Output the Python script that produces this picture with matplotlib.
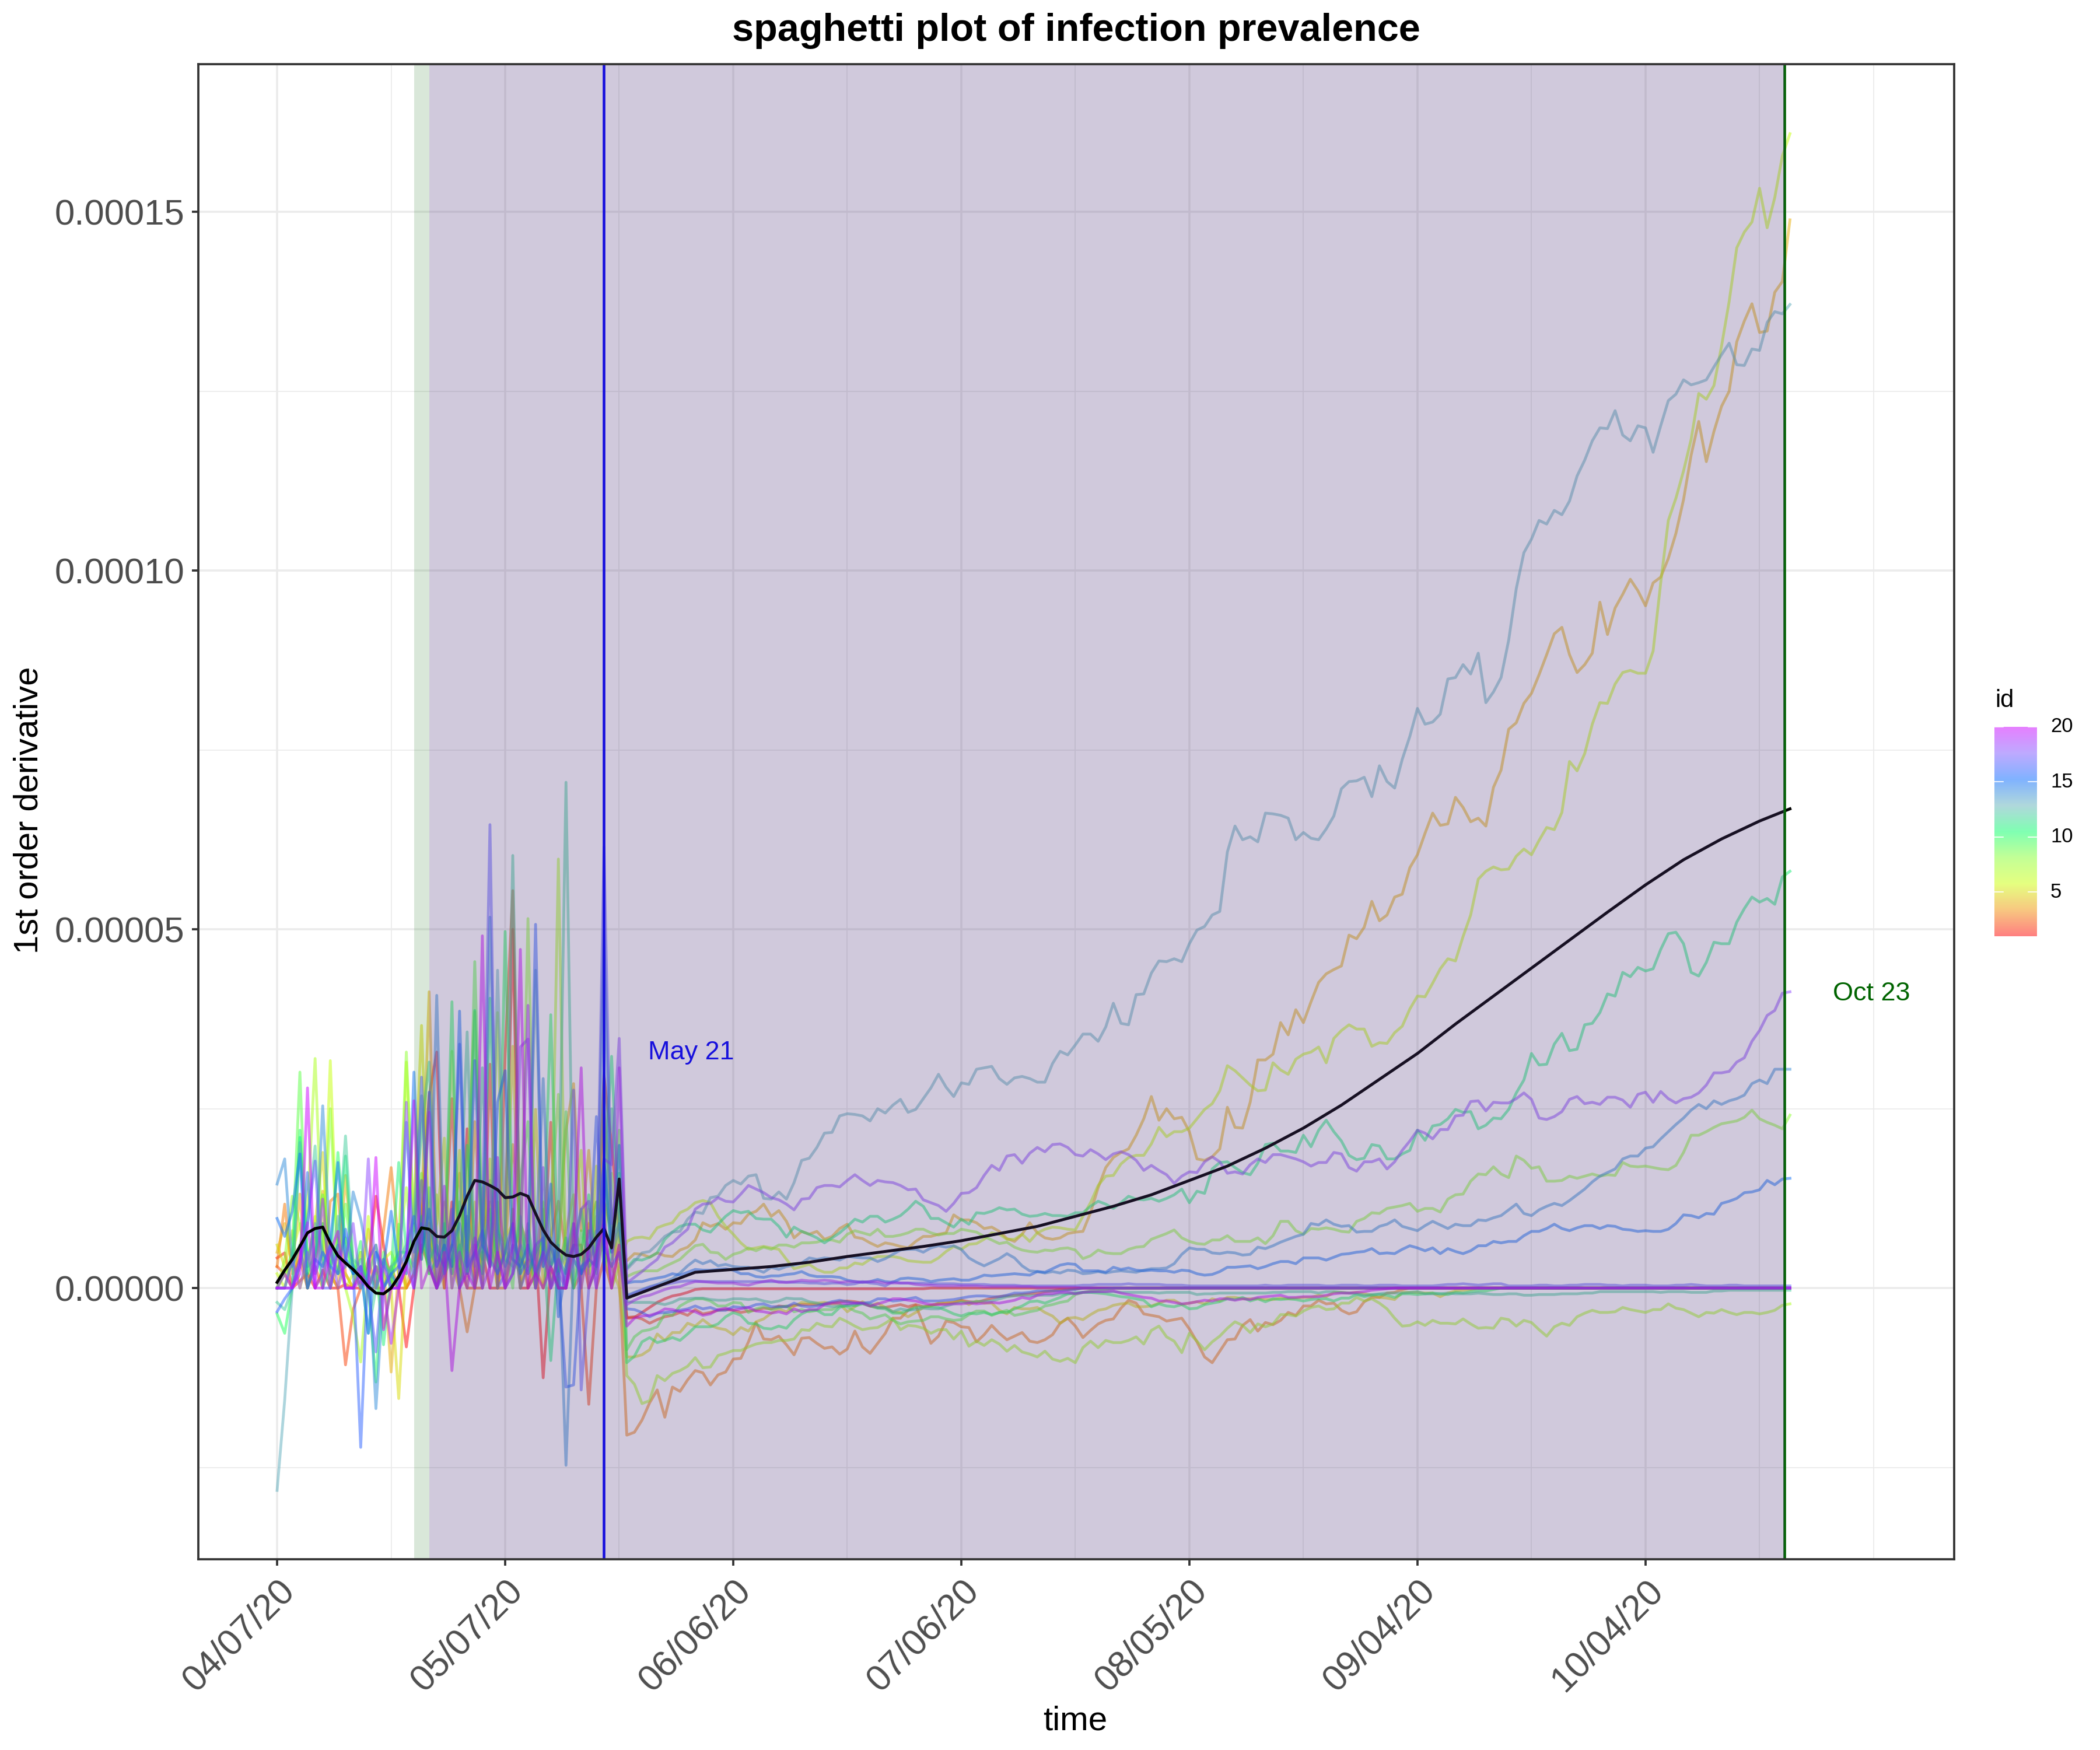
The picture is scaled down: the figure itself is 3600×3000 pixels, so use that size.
import matplotlib
matplotlib.use("Agg")
import matplotlib.pyplot as plt
import numpy as np
from matplotlib.colors import LinearSegmentedColormap, to_rgb

plt.rcParams['font.family'] = ['Liberation Sans', 'DejaVu Sans']

TITLE = "spaghetti plot of infection prevalence"
XLABEL = "time"
YLABEL = "1st order derivative"
X_TICKS = [0, 30, 60, 90, 120, 150, 180]
X_LABELS = ["04/07/20", "05/07/20", "06/06/20", "07/06/20", "08/05/20", "09/04/20", "10/04/20"]
Y_TICKS = [0.0, 5e-5, 1e-4, 1.5e-4]
Y_LABELS = ["0.00000", "0.00005", "0.00010", "0.00015"]
UNIT = 1e-5  # all series below are read in units of 1e-5
N_DAYS = 200

# ---- early noisy part (days 0-45) -------------------------------------------
e01 = [.42,.49,0,.1,.2,0,.25,0,0,.05,0,0,.3,1.28,.6,.1,0,-.82,0,.9,2.68,3.29,0,1.2,0,2.22,0,.5,0,0,.8,5.0,0,0,.6,-1.25,.3,0,0,.6,.6,0,.3,2.96,2.0,.8]
e02 = [.3,.2,0,.6,0,.4,.9,.2,0,-1.07,-.3,0,.4,0,0,.3,0,0,.2,.6,.3,0,.5,2.64,.3,0,0,0,3.12,0,3.27,5.54,.6,0,.2,.4,2.31,0,0,.8,0,-1.62,0,.4,0,.6]
e03 = [.3,1.17,.2,.4,0,.3,0,1.21,1.31,.2,0,.3,0,0,.8,1.68,.6,0,.2,.5,.9,0,.3,.6,0,-.61,0,.8,1.2,0,0,1.1,0,.4,.3,0,.7,1.21,.5,0,.2,.9,.3,1.2,.8,.2]
e04 = [.5,.9,.3,1.31,0,.6,1.35,.2,0,1.57,.3,0,.82,.2,.35,-1.17,.3,0,.5,1.0,4.13,.5,0,.9,1.6,0,2.32,.6,.3,1.2,.5,2.0,.9,.6,0,1.1,0,.5,2.2,2.85,.8,1.92,.4,2.5,1.0,.4]
e05 = [.6,.3,.8,0,.4,.9,1.89,0,.3,.2,0,.5,0,.3,-.55,0,-1.54,.4,1.1,3.66,.8,0,1.2,.3,0,.9,0,1.4,.7,0,.6,3.37,.4,.3,2.49,0,.6,.2,.8,1.3,0,.9,1.2,.5,.3,0]
e06 = [.2,0,.5,.9,.3,1.0,.4,3.17,.3,0,.2,0,1.0,0,.4,.5,.2,3.15,.8,1.5,.5,.9,2.09,0,1.92,.4,1.2,0,1.8,.3,.7,.9,0,.5,.4,1.2,0,.5,.3,1.0,1.92,0,1.7,.6,0,.3]
e07 = [0,.2,.3,.6,1.1,3.20,.5,.3,.7,0,-.4,-1.03,.2,.6,0,.3,.5,1.4,.3,.9,.2,1.3,.4,.9,.3,1.6,3.85,.3,.6,3.84,0,.5,.8,.4,0,.7,.3,5.98,.2,.6,.4,.2,1.0,.5,.3,.9]
e08 = [0,.4,1.28,.9,.2,.8,.3,2.5,.4,.7,.2,.5,0,.3,.2,0,.6,3.29,.9,1.6,.3,.7,.5,3.30,.4,1.0,.6,.2,1.5,.3,.5,.4,.2,5.15,.6,.4,1.2,2.70,.4,.9,.5,1.1,.3,.7,1.6,.6]
e09 = [0,.2,.5,3.01,.3,.4,1.3,.6,.2,1.17,.3,0,.2,0,.5,0,.89,.3,.9,.4,1.4,0,.6,.2,1.2,.5,4.55,.9,.3,.8,.6,0,1.5,2.32,.4,.7,.3,.5,2.46,0,.8,.4,1.2,.3,.6,2.2]
e10 = [-.36,-.63,0,2.2,.4,.8,0,.3,1.89,.6,.2,.65,0,-1.31,.4,.2,.5,.5,.2,1.0,.4,.6,.3,3.99,0,1.99,.7,.4,1.1,.3,4.97,.9,.2,.8,0,.6,3.81,.2,.7,0,.5,1.3,.2,1.8,.4,1.6]
e11 = [0,0,.4,2.1,.2,.5,.9,.3,.6,1.84,.2,.4,0,.3,-.79,.2,1.75,.5,.3,.8,.2,.4,.9,.3,.6,.2,3.87,.5,4.04,.9,.4,.3,1.0,.2,.5,.7,-1.01,.4,.2,.6,1.1,.3,.4,1.5,3.23,.9]
e12 = [-.2,-.3,0,.3,.91,1.98,.4,0,.6,2.12,.4,.3,-.63,0,.3,.2,0,.4,.8,2.2,3.15,.5,.2,.4,.9,3.57,.3,3.07,.6,.2,.5,6.03,.4,.9,.2,.5,.3,.7,7.05,.4,.2,.6,.8,.9,2.5,1.0]
e13 = [-2.82,-1.56,0,2.03,.3,.9,.5,.2,1.0,.4,.3,0,.2,.5,0,.3,.4,.6,1.0,2.68,.6,.3,.7,.2,.5,1.0,.4,.6,.3,4.43,.8,.2,.6,.4,4.43,.3,.7,.2,.5,.9,.2,.4,.6,3.0,.5,.8]
e14 = [1.45,1.80,.3,.6,0,.3,2.54,.5,.2,.3,1.34,.96,.4,-1.68,0,.2,0,2.31,.5,.9,.3,4.08,.2,.6,.9,.3,.5,.2,5.17,.8,.3,.6,.4,.2,.5,2.92,.3,.6,-2.47,.4,.2,.8,.3,5.0,.6,.9]
e15 = [.97,.72,1.07,1.87,0,.4,.3,.6,1.75,.4,.2,.3,-.63,.5,.3,1.07,.3,.2,3.01,.5,1.1,.3,.6,.3,3.86,.2,.5,.8,.3,2.59,3.03,.4,.3,.6,.2,.5,1.45,-.40,.3,.6,.2,.4,.3,1.8,.5,1.99]
e16 = [-.33,-.15,0,.4,1.61,.2,.5,.3,.2,.82,.3,-2.22,.4,.6,0,.2,.3,.5,1.0,.4,2.73,.5,.3,.6,3.40,.3,3.17,.6,.4,.2,.5,.9,.2,.4,5.07,.3,.6,.2,-1.38,-1.35,.3,.4,2.39,.6,.3,.5]
e17 = [0,0,0,.3,.9,1.77,0,0,.6,0,0,.3,0,-.89,.4,0,0,.5,0,2.94,.4,0,.3,1.1,0,.5,0,.8,6.46,0,.2,.9,0,.3,.6,.7,0,.5,0,2.76,-1.42,0,.3,6.15,.9,1.5]
e18 = [0,0,.4,0,.5,0,.2,.6,0,.4,.9,0,1.80,0,.3,0,0,2.59,0,1.5,.3,0,.2,.9,0,.3,.7,0,1.4,.5,0,.2,3.36,3.47,0,1.68,0,.2,0,.4,1.1,1.21,0,1.8,1.72,3.48]
e19 = [0,.2,0,.4,.91,0,1.24,0,.5,0,0,.1,0,.3,0,-.77,0,.3,0,.6,2.45,0,1.42,0,.5,0,.6,0,.3,1.82,0,.2,.6,3.94,0,.5,0,.4,0,.9,0,.6,0,1.0,0,3.07]
e20 = [0,0,0,.2,2.79,0,0,.5,.79,0,0,.2,0,1.82,-.58,0,0,.3,2.61,0,.3,0,.5,-1.15,0,.2,0,4.91,0,.5,0,.6,4.72,0,.2,0,.3,0,0,.6,3.07,0,.5,.9,0,.6]

# ---- later part -------------------------------------------------------------
s01_a = [-.42,-.41,-.34,-.27,-.20,-.15,-.11,-.09,-.06,-.02,-.01,-.01,-.01,-.01,-.01,-.01,-.01,-.01,-.01,-.01,-.01,-.01,-.01,-.01,-.01,-.01,-.01,-.01,-.01,-.01,-.01,-.01,-.01,-.01,-.01,-.01,-.01,-.01,-.01,-.01]

s02_a = [-.41,-.40,-.43,-.49,-.44,-.40,-.38,-.34,-.38,-.30,-.36,-.34,-.31,-.30,-.31,-.34,-.32,-.31,-.28,-.29,-.25,-.26,-.24,-.23,-.23,-.23,-.22,-.21,-.19,-.18,-.19,-.21,-.25,-.27,-.27,-.25,-.23,-.26,-.23]
s02_b = [-.26,-.24,-.22,-.21,-.20,-.17,-.19,-.20,-.17,-.14,-.12,-.11,-.10,-.09,-.08,-.07,-.05,-.04,-.02,-.02,-.01]

s03_a = [-2.05,-2.01,-1.84,-1.60,-1.42,-1.80,-1.38,-1.44,-1.28,-1.15,-1.18,-1.35,-1.21,-1.17,-.99,-.98,-.75,-.48,-.71,-.72,-.67,-.79,-.93,-.70,-.69,-.77,-.84,-.82,-.92,-.85,-.60,-.82,-.91,-.77,-.63,-.42,-.42,-.31,-.24]
s03_b = [-.50,-.77,-.67,-.46,-.48,-.54,-.55,-.75,-.65,-.52,-.63,-.72,-.67,-.62,-.74,-.76,-.72,-.65,-.49,-.42,-.53,-.69,-.59,-.50,-.45,-.43,-.28,-.17,-.21,-.36,-.38,-.40,-.46,-.44,-.42,-.57,-.75,-.96,-1.04]
s03_c = [-.88,-.72,-.71,-.52,-.44,-.60,-.48,-.51,-.45,-.34,-.38,-.25,-.25,-.17,-.22,-.21,-.31,-.36,-.33,-.19,-.13,-.13,-.07,-.06,-.02]

s04_a = [.38,.48,.47,.43,.49,.45,.44,.53,.57,.67,.91,.86,.90,.82,.91,.90,1.03,1.07,1.17,1.00,1.08,.93,.70,.79,.75,.79,.68,.72,.83,.89,.71,.69,.63,.58,.63,.61,.58,.56,.65,.72,.72,.75,.77,1.02,.95,.95,.91,.83,.85,.79,.69,.65,.75,.91,.77,.70,.68,.70,.76,.78,.79,1.05,1.40,1.68,1.82,1.89,1.94,2.13,2.36,2.67,2.34]
s04_b = [2.50,2.36,2.38,2.18,1.80,1.78,1.83,1.94,2.52,2.24,2.23,2.59,3.18,3.18,3.26]
s04_c = [3.70,3.53,3.88,3.70,3.99,4.26,4.38,4.44,4.49,4.92,4.87,5.03,5.39,5.12,5.20,5.45]
s04_d = [5.49,5.86,6.04,6.34,6.62,6.45,6.47,6.84,6.70,6.50,6.55,6.44,6.98,7.22,7.79,7.88,8.15,8.29,8.55,8.83,9.12,9.21,8.83,8.58,8.69,8.85,9.56,9.11,9.48,9.67,9.88,9.72,9.51,9.83,9.91,10.17,10.52,10.99,11.61,12.08,11.52,11.94,12.29,12.50,13.19,13.48,13.72,13.32,13.34,13.88,14.03,14.89]

s05_a = [-.96,-.96,-.93,-.86,-.64,-.73,-.62,-.62,-.49,-.53,-.44,-.52,-.56,-.58,-.65,-.55,-.60,-.47,-.43,-.35,-.29,-.33,-.25,-.20,-.21,-.21,-.20,-.22,-.22,-.33,-.26,-.19,-.25,-.21,-.27,-.33,-.34,-.40,-.34]
s05_b = [-.27,-.25,-.21,-.21,-.20,-.17,-.23,-.18,-.21,-.21,-.31,-.36,-.27,-.29,-.29,-.27,-.34,-.39,-.49,-.42,-.41,-.44,-.37,-.31,-.29,-.24,-.22,-.21,-.26,-.26,-.25,-.21,-.17,-.17,-.23,-.21,-.19,-.22,-.15]
s05_c = [-.18,-.13,-.13,-.15,-.15,-.15,-.16,-.16,-.14,-.15,-.14,-.13,-.13,-.10,-.12,-.06,-.06,-.07,-.06,-.08,-.10,-.13,-.14,-.16,-.06,-.06,-.06,-.07,-.07,-.12,-.07,-.04,-.03,-.02]

s06_a = [.65,.70,.71,.69,.84,.88,.91,1.05,1.10,1.19,1.22,1.19,1.00,.86,.75,.63,.54,.56,.58,.56,.54,.40,.27,.30,.33,.26,.22,.22,.28,.28,.35,.33,.40,.44,.44,.44,.42,.38,.37,.36,.36,.42,.51,.58,.54,.61,.62,.68,.77,.75,.68,.68,.75,.65,.77,.82,.85,.84,.82,.81,1.00,1.19,1.43,1.56,1.57,1.73,1.82,1.85,1.85,2.01,2.24]
s06_b = [2.11,2.18,2.18,2.23,2.36,2.49,2.57,2.75,3.10,3.03,2.93,2.83,2.75,2.76,3.14,3.04,2.98,3.19,3.26,3.29,3.36,3.14]
s06_c = [3.48,3.59,3.67,3.61,3.61,3.37,3.42,3.41,3.56,3.65,3.89,4.07,4.06,4.25,4.45,4.59,4.56,4.9,5.2]
s06_d = [5.70,5.81,5.87,5.83,5.84,6.02,6.12,6.04,6.24,6.42,6.39,6.63,7.34,7.21,7.45,7.86,8.16,8.15,8.42,8.58,8.61,8.57,8.57,8.88,9.83,10.70,11.01,11.39,11.83,12.47,12.39,12.58,13.13,13.75,14.50,14.72,14.86,15.33,14.78,15.20,15.78,16.09]

s07_a = [-1.22,-1.34,-1.61,-1.57,-1.22,-1.29,-1.19,-1.15,-1.09,-.97,-1.11,-1.10,-.94,-.91,-.87,-.87,-.82,-.78,-.76,-.76,-.73,-.73,-.71,-.58,-.59,-.49,-.53,-.54,-.42,-.47,-.53,-.58,-.56,-.55,-.49,-.42,-.58,-.52]
s07_b = [-.53,-.56,-.63,-.58,-.58,-.71,-.60,-.81,-.74,-.80,-.72,-.78,-.88,-.80,-.89,-.92,-.96,-.88,-.99,-1.02,-.98,-1.04,-.83,-.74,-.83,-.73,-.76,-.76,-.73,-.68,-.78,-.59,-.53,-.68,-.74,-.90,-.63,-.74,-.86,-.75]
s07_c = [-.67,-.56,-.47,-.52,-.62,-.50,-.54,-.50,-.37,-.37,-.39,-.32,-.27,-.25,-.30,-.29,-.21,-.21,-.13,-.18,-.15,-.21,-.29,-.42,-.53,-.52,-.47,-.52,-.45,-.49,-.49,-.50,-.43,-.50,-.56,-.55,-.56,-.42]
s07_d = [-.44,-.53,-.45,-.48,-.58,-.67,-.54,-.49,-.52,-.40,-.35,-.31,-.34,-.34,-.33,-.27,-.30,-.32,-.34,-.30,-.30,-.22,-.28,-.30,-.35,-.40,-.34,-.35,-.30,-.34,-.37,-.34,-.34,-.36,-.34,-.31,-.24,-.22]

s08_a = [.16,.21,.24,.24,.24,.30,.35,.40,.50,.59,.61,.50,.49,.40,.47,.50,.56,.52,.57,.54,.60,.60,.57,.63,.63,.64,.67,.67,.64,.75,.80,.77,.74,.82,.72,.72,.74,.77,.82]
s08_b = [.82,.77,.74,.76,.76,.82,.80,.78,.72,.67,.62,.64,.57,.53,.51,.50,.53,.52,.55,.56,.53,.41,.45,.53,.49,.48,.48,.54,.57,.58,.68,.72,.76,.81,.70,.65,.62,.61,.67]
s08_c = [.67,.73,.65,.65,.65]
s08_d = [.70,.62,.73,.93,.93,.80,.75,.83,.82,.84,.82,.79,.78,.93,.97,1.05,1.04,1.11,1.13,1.15,1.18,1.07,1.11,1.11,1.06,1.24,1.30,1.31,1.49,1.59,1.58,1.69,1.59,1.54,1.84,1.78,1.67,1.69,1.49,1.49,1.50,1.56,1.53,1.56,1.59,1.56,1.58,1.57,1.75,1.70,1.69,1.70,1.68,1.66,1.65,1.71,1.89,2.13,2.13,2.18,2.24,2.29,2.31,2.33,2.38,2.48,2.36,2.31,2.27,2.22,2.41]

s09_a = [-.86,-.68,-.60,-.58,-.54,-.36,-.38,-.25,-.19,-.15,-.15,-.18,-.25,-.25,-.20,-.21,-.34,-.29,-.26]
s09_b = [-.30,-.27,-.25,-.33,-.30,-.33,-.31,-.30,-.30,-.25,-.26,-.32,-.35,-.43,-.40,-.37,-.45,-.50,-.47,-.46]
s09_c = [-.45,-.40,-.40,-.43,-.45,-.44,-.37,-.32,-.32,-.38,-.34,-.31,-.38,-.36,-.33,-.31,-.25,-.23,-.20,-.18,-.09,-.06,-.04,-.03,-.02]

s10_a = [-1.04,-.95,-.75,-.69,-.76,-.73,-.69,-.73,-.64,-.54,-.54,-.54,-.50,-.40,-.34,-.38,-.49,-.50,-.56,-.57,-.53,-.56,-.44,-.36,-.31,-.31,-.37,-.37,-.27,-.24,-.25,-.22,-.25,-.28,-.29,-.35,-.35,-.31]
s10_b = [-.27,-.26,-.26,-.27,-.31,-.36,-.39,-.35,-.36,-.34,-.37,-.34,-.34,-.29,-.25,-.19,-.18,-.21,-.17,-.13,-.08,-.07,-.06,-.06,-.07,-.08,-.10,-.12,-.13,-.15,-.17,-.26,-.22,-.25,-.26,-.23,-.29,-.28,-.23,-.21]
s10_c = [-.19,-.15,-.16,-.13,-.18,-.15,-.19,-.15,-.16,-.15,-.16,-.18,-.16,-.15,-.15,-.18,-.14,-.14,-.09,-.12,-.10,-.09,-.10,-.13,-.08,-.08,-.09,-.08,-.07,-.08,-.09,-.06,-.07,-.05,-.04,-.04,-.02]

s11_a = [.28,.40,.39,.43,.49,.68,.78,.86,.89,.89,.81,.78,.89,1.00,1.08,1.05,1.07,.97,.96,.96,.86,.71,.85,.79,.75,.70,.63,.70,.77,.86,.96,.92,1.00,1.00,.92,.96,1.01,1.10,1.21,1.14,.97,.97,.91,.85,.96,.89,1.05,1.04,1.07,1.12,1.09,1.10,1.03,1.00,1.01,1.04,1.01,1.01,1.00,1.05,1.05,1.14,1.21,1.17,1.11,1.19,1.28,1.24,1.23,1.25,1.21]
s11_b = [1.25,1.30,1.38,1.19,1.35,1.32,1.66,1.75,1.76,1.68,1.61,1.58,1.74,2.00,2.02,1.91,1.91,1.89,2.13,1.97,2.20,2.34,2.18,2.05,1.85,1.79,1.81,2.00,1.98,1.80,1.80,1.87,1.92,2.20,2.06,2.26,2.28,2.36,2.49,2.45,2.46,2.22,2.27,2.37,2.36,2.49,2.72,2.90,3.27,3.11,3.12,3.40,3.55,3.31,3.33,3.67,3.69,3.84,4.10,4.07,4.40,4.34,4.47,4.42,4.45,4.72,4.94,4.96,4.80,4.40,4.35,4.54,4.82,4.80,4.80,5.10,5.29,5.45,5.38,5.43,5.35,5.73,5.81]

s12_a = [-.19,-.20,-.20,-.20,-.21,-.23,-.20,-.15,-.15,-.14,-.14,-.16,-.17,-.17,-.15,-.15,-.16,-.15,-.18,-.20,-.18,-.14,-.15,-.15,-.19,-.21,-.24,-.26,-.25,-.24,-.23,-.21,-.22,-.27,-.27,-.33,-.29,-.31,-.30]
s12_b = [-.28,-.29,-.29,-.25,-.22,-.20,-.20,-.19,-.18,-.18,-.15,-.12,-.11,-.10,-.11,-.10,-.10,-.10,-.08,-.08,-.07,-.06,-.06,-.05,-.05,-.05,-.06,-.06,-.06,-.06,-.06,-.07,-.06,-.06,-.06,-.06,-.09,-.08,-.08]
s12_c = [-.07,-.07,-.07,-.07,-.07,-.07,-.07,-.06,-.06,-.05,-.05,-.05,-.05,-.07,-.05,-.05,-.06,-.07,-.08,-.10,-.09,-.08,-.07,-.07,-.07,-.06,-.05,-.08,-.08,-.08,-.07,-.08,-.08,-.08,-.07,-.08,-.09,-.09,-.08,-.08,-.10,-.10,-.09,-.09,-.09,-.08,-.08,-.08,-.07,-.07,-.05,-.05,-.05,-.05,-.05,-.05,-.05,-.05,-.06,-.05,-.05,-.05,-.06,-.06,-.06,-.04,-.04,-.03,-.03,-.03,-.03,-.03,-.03,-.03,-.03,-.03]

s13_a = [.26,.37,.49,.51,.61,.72,.78,.79,.96,1.06,1.04,1.26,1.28,1.43,1.50,1.45,1.56,1.58,1.25,1.24,1.34,1.24,1.47,1.78,1.81,1.96,2.16,2.17,2.40,2.43,2.42,2.40,2.33,2.50,2.44,2.55,2.63,2.45,2.49,2.64,2.79,2.98,2.80,2.67,2.86,2.84,3.05,3.07,3.09,2.92,2.84,2.93,2.95,2.92,2.87,2.87,3.13,3.30,3.25,3.39,3.54,3.54,3.44,3.64]
s13_b = [3.97,3.69,3.67,4.09,4.10,4.39,4.56,4.55,4.59,4.55,4.80,4.99,5.04,5.20,5.25,6.08,6.44,6.25,6.29,6.22,6.62,6.61,6.59,6.55,6.25,6.35,6.27,6.25,6.40,6.58,6.96,7.06,7.07,7.12,6.85,7.28,7.06,6.97]
s13_c = [7.37,7.69,8.08,7.86,7.89,8.00,8.49,8.51,8.69,8.56,8.85,8.16,8.31,8.51,9.03,9.75,10.25,10.44,10.70,10.65,10.84,10.78,10.97,11.32,11.54,11.81,11.99,11.98,12.23,11.89,11.81,12.02,11.99,11.65,12.02,12.37,12.46,12.66,12.59,12.62,12.66,12.84,13.01,13.17,12.87,12.86,13.09,13.07,13.46,13.61,13.58,13.71]

s14_a = [-.10,-.06,-.02,.02,.05,.09,.13,.21,.31,.39,.34,.38,.31,.33,.30,.29,.29,.26,.22,.29,.26,.30,.32,.35,.42,.40,.42,.41,.39,.44,.43,.42,.42,.37,.41,.47,.53,.54]
s14_b = [.54,.50,.56,.59,.57,.59,.54,.42,.36,.31,.36,.41,.48,.42,.31,.24,.23,.21,.23,.21,.25,.24,.20,.21,.23,.21,.23,.24,.23,.22,.25,.27,.27,.28,.34,.47,.56,.54,.54,.49]
s14_c = [.48,.50,.49,.46,.47,.57,.55,.59,.64,.68,.72]
s14_d = [.75,.90,.88,.95,.89,.86,.87,.78,.79,.79,.86,.89,.95,.86,.83,.80,.87,.93,.88,.83,.89,.87,.87,.95,.94,.98,1.01,1.09,1.17,1.04,1.01,1.09,1.14,1.18,1.15,1.22,1.30,1.38,1.48,1.56,1.61,1.66,1.80,1.84,1.84,1.95,1.97,2.08,2.18,2.28,2.37,2.48,2.56,2.50,2.61,2.56,2.61,2.64,2.69,2.85,2.90,2.85,3.05,3.05,3.05]

s15_a = [.07,.09,.09,.12,.14,.16,.20,.18,.22,.26,.25,.25,.26,.27,.25,.20,.20,.16,.15,.17,.17,.19,.20,.23,.18,.16,.16,.16,.15,.11,.09,.08,.09,.12,.09,.08,.13,.14]
s15_b = [.13,.12,.09,.11,.12,.13,.11,.11,.14,.18,.17,.18,.19,.20,.19,.18,.23,.22,.27,.32,.34,.33,.24,.24,.24,.22,.29,.26,.28,.25,.24,.25,.24,.24,.22,.25,.24,.20,.18,.19]
s15_c = [.23,.29,.29,.30,.31,.27,.30,.34,.37,.37,.34,.42,.42,.42,.39,.43,.47,.48,.50,.51,.55,.48,.49,.48,.54,.59,.56,.52,.56,.48,.55,.51,.48,.52,.59,.59,.65,.63,.65,.65,.73,.79,.79,.83,.89,.83,.80,.84,.87,.87,.83,.87,.86,.82,.81,.79,.80,.79,.79,.82,.90,1.02,1.01,.98,1.04,1.03,1.18,1.21,1.25,1.33,1.34,1.37,1.50,1.44,1.52,1.53]

s16_a = [-.29,-.30,-.34,-.40,-.35,-.34,-.33,-.31,-.29,-.25,-.29,-.27,-.31,-.31,-.26,-.27,-.27,-.23,-.22,-.26,-.26,-.26,-.21,-.25,-.26,-.25,-.22,-.19,-.17,-.19,-.21,-.21,-.20,-.15,-.15,-.18,-.17,-.15,-.13]
s16_b = [-.18,-.18,-.18,-.17,-.16,-.14,-.12,-.11,-.11,-.12,-.12,-.10,-.07,-.07,-.06,-.04,-.04,-.04,-.04,-.03,-.02]

s17_a = [-.12,-.07,-.03,.01,.04,.05,.07,.09,.10,.10,.09,.09,.09,.09,.09,.09,.09,.09,.09,.09,.09,.08,.08,.08,.07,.07,.06,.07,.07,.05,.06,.09,.07,.06,.03,.09,.07,.07,.07,.07,.06,.06,.06,.06,.05,.05,.05,.05,.04,.04,.04,.04,.03,.03,.03,.03,.03,.03,.03,.03,.04,.04,.05,.05,.05,.05,.06,.05,.05,.05,.05,.04,.04,.04,.03,.03,.03,.02,.02,.02]
s17_b = [.03,.03,.03,.03,.03,.03,.03,.04,.03,.03,.04,.04,.04,.04,.04,.03,.03,.04,.04,.04,.03,.03,.04,.04,.04,.03,.03,.03,.03,.03,.04,.05,.05,.06,.05,.04,.05,.06,.06,.03,.03,.03,.03,.04,.04,.03,.03,.04,.04,.05,.05,.05,.04,.04,.03,.04,.04,.04,.03,.03,.03,.04,.04,.05,.04,.03,.03,.03,.04,.04,.03,.03,.03,.03,.03,.03,.03]

s18_a = [.07,.15,.23,.32,.40,.57,.63,.73,.82]
s18_b = [1.10,1.17,1.18,1.26,1.21,1.20,1.31,1.43,1.38,1.33,1.26,1.23,1.17,1.09,1.24,1.25,1.40,1.43,1.43,1.41,1.50,1.58,1.50,1.43,1.50,1.48,1.47,1.43,1.37,1.38,1.23,1.19,1.15,1.07,1.18,1.32,1.33,1.40,1.57,1.71,1.64,1.84,1.86,1.74,1.88,1.96,1.90,2.00,2.01,1.96,1.86,1.84,1.93,1.87,1.79,1.87,1.90,1.86,1.78,1.64,1.71,1.64]
s18_c = [1.58,1.46,1.56,1.62,1.61,1.76,1.83,1.76,1.60,1.62,1.59,1.72,1.80,1.75,1.86,1.86,1.83,1.80,1.76,1.70,1.75,1.75,1.89,1.87,1.68,1.63,1.76,1.76,1.80,1.66,1.76,1.92,2.05,2.20,2.16,2.08,2.21,2.21,2.40,2.41,2.60,2.61,2.47,2.59,2.58,2.58,2.64,2.72,2.63,2.37,2.35,2.39,2.46,2.63,2.67,2.57,2.59,2.56,2.66,2.66,2.62,2.52,2.70,2.73,2.59,2.74,2.64,2.58,2.64,2.66,2.72,2.83,3.00,3.00,3.02,3.15,3.21,3.44,3.59,3.80,3.87,4.11,4.13]

s19_a = [-.23,-.17,-.12,-.10,-.06,-.02,.01,.02,.06,.09,.09,.08,.07,.07,.07,.05,.04,.07,.09,.11,.08,.08,.09,.11,.10,.10,.11,.10,.08,.09,.09,.08,.09,.09,.07,.07,.07,.07,.05,.04,.04,.03,.03,.03,.03,.03,.03,.02,.02,.02,.02,.02,.02,.02,.01,.01,.01,.01,.01,.01]

s20_a = [-.53,-.42,-.39,-.38,-.35,-.29,-.30,-.33,-.31,-.33,-.38,-.36,-.30,-.28,-.31,-.29,-.27,-.32,-.33,-.35,-.33,-.36,-.29,-.33,-.30,-.30,-.23,-.21,-.21,-.22,-.21,-.21,-.25,-.22,-.19,-.15,-.15,-.17,-.18]
s20_b = [-.21,-.23,-.23,-.23,-.22,-.22,-.21,-.22,-.21,-.20,-.21,-.19,-.17,-.13,-.15,-.10,-.08,-.08,-.06,-.06,-.08,-.06,-.05,-.05,-.05,-.04,-.07,-.09,-.11,-.13,-.14,-.18,-.18,-.20,-.22,-.21,-.19,-.17,-.18]
s20_c = [-.15,-.15,-.17,-.15,-.16,-.13,-.12,-.11,-.10,-.13,-.13,-.12,-.12,-.12,-.10,-.08,-.07,-.07,-.06,-.05,-.03,-.02,-.01]

SEGMENTS = {
    1: [(0, e01), (46, s01_a)],
    2: [(0, e02), (46, s02_a), (85, s02_b)],
    3: [(0, e03), (46, s03_a), (85, s03_b), (124, s03_c)],
    4: [(0, e04), (46, s04_a), (117, s04_b), (132, s04_c), (148, s04_d)],
    5: [(0, e05), (46, s05_a), (85, s05_b), (124, s05_c)],
    6: [(0, e06), (46, s06_a), (117, s06_b), (139, s06_c), (158, s06_d)],
    7: [(0, e07), (46, s07_a), (84, s07_b), (124, s07_c), (162, s07_d)],
    8: [(0, e08), (46, s08_a), (85, s08_b), (124, s08_c), (129, s08_d)],
    9: [(0, e09), (46, s09_a), (65, s09_b), (85, s09_c)],
    10: [(0, e10), (46, s10_a), (84, s10_b), (124, s10_c)],
    11: [(0, e11), (46, s11_a), (117, s11_b)],
    12: [(0, e12), (46, s12_a), (85, s12_b), (124, s12_c)],
    13: [(0, e13), (46, s13_a), (110, s13_b), (148, s13_c)],
    14: [(0, e14), (46, s14_a), (84, s14_b), (124, s14_c), (135, s14_d)],
    15: [(0, e15), (46, s15_a), (84, s15_b), (124, s15_c)],
    16: [(0, e16), (46, s16_a), (85, s16_b)],
    17: [(0, e17), (46, s17_a), (123, s17_b)],
    18: [(0, e18), (46, s18_a), (55, s18_b), (117, s18_c)],
    19: [(0, e19), (46, s19_a)],
    20: [(0, e20), (46, s20_a), (85, s20_b), (124, s20_c)],
}

mean_early = [.08,.25,.40,.58,.77,.83,.85,.63,.45,.35,.26,.15,.02,-.07,-.08,0,.16,.37,.65,.84,.82,.72,.71,.80,1.01,1.28,1.50,1.48,1.43,1.37,1.26,1.27,1.32,1.28,1.04,.81,.64,.54,.46,.44,.47,.56,.71,.83,.56,1.52,-.14]
mean_days = [55,60,65,70,75,80,85,90,95,100,105,110,115,120,125,130,135,140,145,150,155,160,165,170,175,180,185,190,195,199]
mean_vals = [.22,.26,.30,.36,.44,.51,.58,.66,.76,.86,1.00,1.14,1.30,1.50,1.70,1.95,2.23,2.55,2.91,3.27,3.68,4.07,4.46,4.85,5.24,5.62,5.97,6.26,6.51,6.68]

RECT_DAYS = [(18, 198.3, "#006400"), (20, 198.3, "#A020F0")]
VLINE_MAY = 43
VLINE_OCT = 198.3

# ---- colours: ggplot gradient of rainbow(5), interpolated in Lab ------------
stops = [(1, "#FF0000"), (3.375, "#F19100"), (5.75, "#CCFF00"), (8.125, "#87FF2D"), (10.5, "#00FF66"),
         (12.875, "#61B1B9"), (15.25, "#0066FF"), (17.625, "#7D55FF"), (20, "#CC00FF")]
cmap = LinearSegmentedColormap.from_list("idscale", [((v - 1) / 19, c) for v, c in stops])
def id_colour(i):
    return cmap((i - 1) / 19)

# ---- figure ----------------------------------------------------------------
W, H = 3600, 3000
fig = plt.figure(figsize=(12, 10), dpi=300, facecolor="white")
L, R, T, B = 340, 3350, 110, 2673
ax = fig.add_axes([L / W, 1 - B / H, (R - L) / W, (B - T) / H])
ax.set_xlim(-10.36, 220.6)
ax.set_ylim(-3.78e-5, 17.06e-5)

GRID = "#EBEBEB"
for d in range(0, 181, 30):
    ax.axvline(d, color=GRID, lw=0.85, zorder=1)
for d in range(15, 211, 30):
    ax.axvline(d, color=GRID, lw=0.42, zorder=1)
ax.axvline(210, color=GRID, lw=0.42, zorder=1)
for v in Y_TICKS:
    ax.axhline(v, color=GRID, lw=0.85, zorder=1)
for v in (-2.5e-5, 2.5e-5, 7.5e-5, 12.5e-5):
    ax.axhline(v, color=GRID, lw=0.42, zorder=1)

days = np.arange(N_DAYS)
for i in range(1, 21):
    y = np.zeros(N_DAYS)
    for start, vals in SEGMENTS[i]:
        y[start:start + len(vals)] = np.asarray(vals)[:N_DAYS - start]
    ax.plot(days, y * UNIT, color=id_colour(i), alpha=0.5, lw=1.15, zorder=2 + i * 0.01, solid_joinstyle="round")

mx = list(range(len(mean_early))) + mean_days
my = mean_early + mean_vals
ax.plot(mx, np.array(my) * UNIT, color="black", lw=1.2, zorder=3)

ax.axvline(VLINE_MAY, color="#0000FF", lw=1.1, zorder=3.2)
ax.axvline(VLINE_OCT, color="#006400", lw=1.1, zorder=3.2)
ax.text(54.5, 3.28e-5, "May 21", color="#0000FF", fontsize=10.8, ha="center", va="center", zorder=3.3)
ax.text(209.7, 4.1e-5, "Oct 23", color="#006400", fontsize=10.8, ha="center", va="center", zorder=3.3)

for x0, x1, c in RECT_DAYS:
    ax.axvspan(x0, x1, color=c, alpha=0.15, lw=0, zorder=4)

for s in ax.spines.values():
    s.set_color("#333333")
    s.set_linewidth(0.9)
    s.set_zorder(6)

ax.set_xticks(X_TICKS)
ax.set_xticklabels(X_LABELS, rotation=45, ha="right", va="top", rotation_mode="anchor",
                   fontsize=15, color="#4D4D4D")
ax.set_yticks(Y_TICKS)
ax.set_yticklabels(Y_LABELS, fontsize=14.8, color="#4D4D4D")
ax.tick_params(axis="both", length=2.75, width=0.9, color="#333333", pad=3)

fig.text(1845 / W, 1 - 53 / H, TITLE, fontsize=16, fontweight="bold", ha="center", va="center")
fig.text(1843 / W, 1 - 2950 / H, XLABEL, fontsize=14, ha="center", va="center")
fig.text(50 / W, 1 - 1389 / H, YLABEL, fontsize=13.9, rotation=90, ha="center", va="center")

# ---- colour bar legend -----------------------------------------------------
cax = fig.add_axes([3419 / W, 1 - 1605 / H, (3492 - 3419) / W, (1605 - 1246) / H])
grad = np.linspace(0, 1, 256)[:, None]
cax.imshow(grad, origin="lower", cmap=cmap, alpha=0.5, aspect="auto", extent=[0, 1, 1, 20])
cax.set_xticks([])
cax.set_yticks([])
for s in cax.spines.values():
    s.set_visible(False)
for v in (5, 10, 15, 20):
    cax.plot([0, 0.2], [v, v], color="white", lw=0.4)
    cax.plot([0.8, 1], [v, v], color="white", lw=0.4)
    fig.text(3515 / W, 1 - (1605 - (v - 1) * 18.9) / H, str(v), fontsize=8.3, ha="left", va="center")
cax.set_xlim(0, 1)
cax.set_ylim(1, 20)
fig.text(3420 / W, 1 - 1201 / H, "id", fontsize=10, ha="left", va="center")

fig.savefig("out.png", dpi=300)
